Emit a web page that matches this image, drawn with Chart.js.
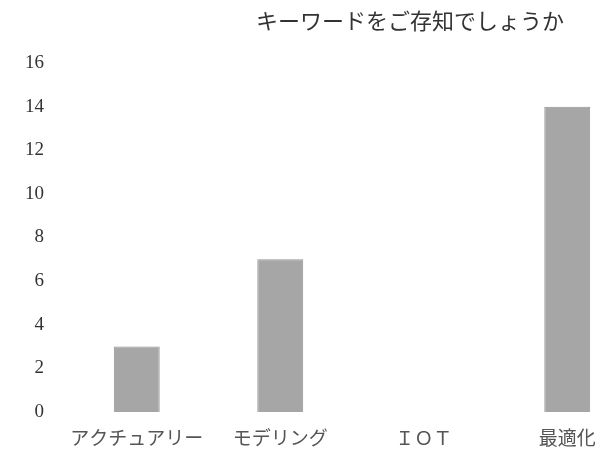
<!DOCTYPE html>
<html lang="ja">
<head>
    <meta charset="UTF-8">
    <title>キーワードをご存知でしょうか</title>
    <script src="https://cdn.jsdelivr.net/npm/chart.js"></script>
    <style>
        html, body { margin: 0; padding: 0; background: #fff; overflow: hidden; }
        #wrap { width: 601px; height: 451px; overflow: hidden; }
        #wrap div { width: 650px; height: 451px; }
    </style>
</head>
<body>
    <div id="wrap"><div><canvas id="barChart"></canvas></div></div>

    <script>
        // datos
        const chartTitle = 'キーワードをご存知でしょうか';
        const categories = ['アクチュアリー', 'モデリング', 'ＩＯＴ', '最適化'];
        const counts = [3, 7, 0, 14];
        const yTicks = [0, 2, 4, 6, 8, 10, 12, 14, 16];

        // título dibujado a mano (no centrado sobre el área)
        const titlePlugin = {
            id: 'freeTitle',
            afterDraw(chart) {
                const c = chart.ctx;
                c.save();
                c.font = '22px "Noto Sans CJK JP"';
                c.fillStyle = '#333';
                c.textAlign = 'center';
                c.textBaseline = 'middle';
                c.fillText(chartTitle, 410, 21);
                c.restore();
            }
        };

        const ctx = document.getElementById('barChart').getContext('2d');
        new Chart(ctx, {
            type: 'bar',
            data: {
                labels: categories,
                datasets: [{
                    data: counts,
                    backgroundColor: '#a6a6a6',
                    borderColor: '#949494',
                    borderWidth: 1,
                    barPercentage: 0.32,
                    categoryPercentage: 1
                }]
            },
            options: {
                responsive: true,
                maintainAspectRatio: false,
                animation: false,
                layout: { padding: { top: 63, right: 11, bottom: 0, left: 0 } },
                plugins: {
                    legend: { display: false },
                    tooltip: { enabled: false }
                },
                scales: {
                    x: {
                        grid: { display: false, drawTicks: false },
                        border: { display: false },
                        ticks: {
                            padding: 14,
                            color: '#555',
                            font: { family: '"Noto Sans CJK JP"', size: 19 }
                        },
                        afterFit(scale) { scale.height = 39; }
                    },
                    y: {
                        min: 0,
                        max: 16,
                        grid: { display: false, drawTicks: false },
                        border: { display: false },
                        afterBuildTicks(scale) { scale.ticks = yTicks.map(v => ({ value: v })); },
                        ticks: {
                            padding: 21,
                            color: '#333',
                            font: { family: '"Liberation Serif"', size: 19 }
                        },
                        afterFit(scale) { scale.width = 65; }
                    }
                }
            },
            plugins: [titlePlugin]
        });
    </script>
</body>
</html>
